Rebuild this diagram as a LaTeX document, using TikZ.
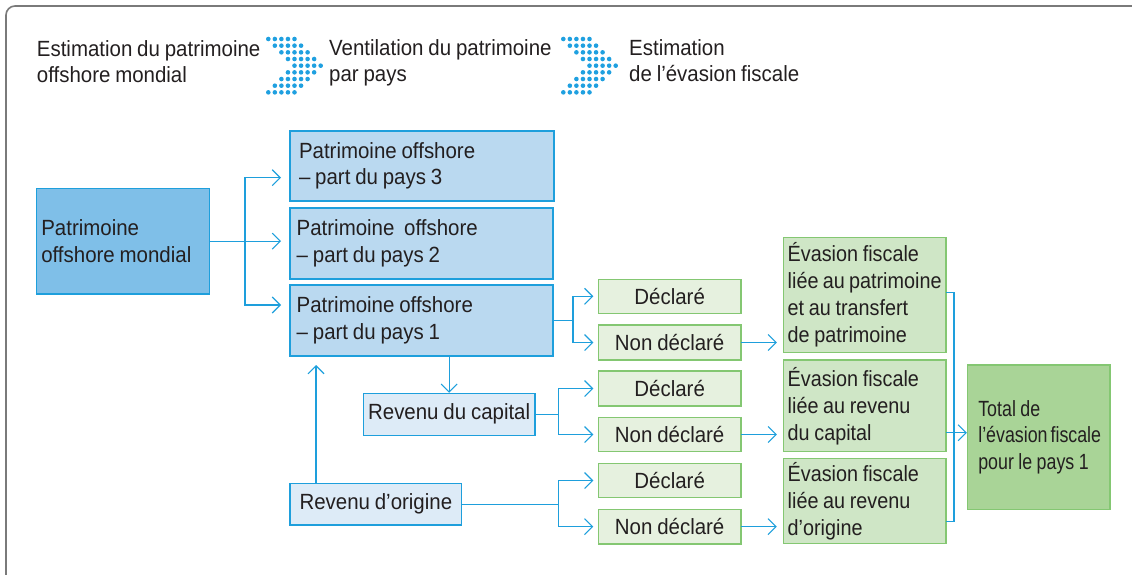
\documentclass[tikz,border=0pt]{standalone}
\usepackage{fontspec}
\setmainfont{Liberation Sans}[FakeStretch=0.93,WordSpace=0.85]
\newfontfamily\evfont{Liberation Sans}[FakeStretch=0.9,WordSpace=0.85]
\newfontfamily\narrowfont{Liberation Sans}[FakeStretch=0.81,WordSpace=0.9]
\usetikzlibrary{arrows.meta}

\definecolor{ink}{HTML}{231F20}
\definecolor{framegray}{HTML}{7A7A7A}
\definecolor{lineblue}{HTML}{1E9FDC}
\definecolor{dotblue}{HTML}{1FA0E0}
\definecolor{fillA}{HTML}{7FBFE8}
\definecolor{fillP}{HTML}{BAD9F0}
\definecolor{fillR}{HTML}{DDEBF7}
\definecolor{linegreen}{HTML}{84C772}
\definecolor{fillD}{HTML}{E6F1DF}
\definecolor{fillE}{HTML}{CFE6C6}
\definecolor{fillT}{HTML}{A9D497}

\tikzset{
  every node/.style={font=\fontsize{22}{26.5}\selectfont, text=ink},
  bx/.style={draw, line width=1.2pt, anchor=north west, inner ysep=0pt, outer sep=0pt},
  bluebox/.style={bx, draw=lineblue},
  greenbox/.style={bx, draw=linegreen},
  evbox/.style={greenbox, fill=fillE, font=\fontsize{22}{27}\selectfont\evfont},
  leftbox/.style args={#1/#2/#3/#4}{minimum width=#1pt, minimum height=#2pt,
      inner xsep=#3pt, text width=#4pt, align=flush left,
      execute at begin node={\spaceskip=0pt\xspaceskip=0pt}},
  midbox/.style args={#1/#2}{minimum width=#1pt, minimum height=#2pt, inner xsep=0pt, align=center},
  legend/.style={anchor=north west, inner sep=0pt, align=left},
  conn/.style={draw=lineblue, line width=1.1pt},
  arr/.style={conn, -{Straight Barb[length=8pt,width=16pt]}},
  frame/.style={draw=framegray, line width=1.6pt, rounded corners=9pt},
}

\begin{document}
\hyphenpenalty=10000
\exhyphenpenalty=10000
\hbadness=10000
\hfuzz=200pt
\begin{tikzpicture}[x=1pt,y=-1pt]
\useasboundingbox (0,0) rectangle (1132,575);
\clip (0,0) rectangle (1132,575);

% outer frame, open towards the right and bottom edges
\draw[frame] (6,6) rectangle (1160,600);

% legend: three stages separated by dotted chevrons
\node[legend] (l1) at (36.7,40) {Estimation du patrimoine\\offshore mondial};
\node[legend] (l2) at (329,39) {Ventilation du patrimoine\\par pays};
\node[legend] (l3) at (629,39) {Estimation\\de l’évasion fiscale};

\foreach \cx in {268.3,563.3}{
  \foreach \r in {0,...,8}{
    \pgfmathsetmacro{\off}{4-abs(\r-4)}
    \foreach \c in {0,...,4}{
      \fill[dotblue] ({\cx+(\c+\off)*6.55},{39+\r*6.67}) circle (2.3pt);
    }
  }
}

% wealth boxes
\node[bluebox, fill=fillA, leftbox=172.6/105.7/4.6/163.4] (A) at (36.7,188.3)
  {Patrimoine\\offshore~mondial};
\node[bluebox, fill=fillP, leftbox=264/70/9/246] (P3) at (290,131)
  {Patrimoine offshore\\– part du pays 3};
\node[bluebox, fill=fillP, leftbox=263/71/6.7/249.6] (P2) at (290,208)
  {Patrimoine\ \ offshore\\– part du pays 2};
\node[bluebox, fill=fillP, leftbox=263/71/6.7/249.6] (P1) at (290,285)
  {Patrimoine offshore\\– part du pays 1};

% income boxes
\node[bluebox, fill=fillR, midbox=171.7/42] (RC) at (363.3,393.3) {Revenu du capital};
\node[bluebox, fill=fillR, midbox=171.7/41.7] (RO) at (290,483.3) {Revenu d’origine};

% declared / undeclared
\node[greenbox, fill=fillD, midbox=142.7/34] (D1) at (598.3,279.3) {Déclaré};
\node[greenbox, fill=fillD, midbox=142.7/35] (N1) at (598.3,325) {Non déclaré};
\node[greenbox, fill=fillD, midbox=142.7/35] (D2) at (598.3,371) {Déclaré};
\node[greenbox, fill=fillD, midbox=142.7/34.4] (N2) at (598.3,417.3) {Non déclaré};
\node[greenbox, fill=fillD, midbox=142.7/34.4] (D3) at (598.3,463.3) {Déclaré};
\node[greenbox, fill=fillD, midbox=142.7/34.7] (N3) at (598.3,509.3) {Non déclaré};

% tax evasion boxes
\node[evbox, leftbox=162.7/115.4/4.4/153.9] (E1) at (783.3,237.3)
  {Évasion~fiscale\\liée~au~patrimoine\\et~au~transfert\\de~patrimoine};
\node[evbox, leftbox=162.7/91.7/4.4/153.9] (E2) at (783.3,360)
  {Évasion~fiscale\\liée~au~revenu\\du~capital};
\node[evbox, leftbox=162.7/85/4.4/153.9] (E3) at (783.3,458.3)
  {Évasion~fiscale\\liée~au~revenu\\d’origine};
\node[greenbox, fill=fillT, leftbox=142.7/144.3/11/120.7] (T) at (967.3,365)
  {\narrowfont Total~de\\l’évasion~fiscale\\pour~le~pays~1};

% world wealth split by country
\coordinate (jA) at ([xshift=35.7pt]A.east);
\draw[arr, shorten >=9pt] (A.east) -- (jA) |- ([yshift=-11.7pt]P3.west);
\draw[arr, shorten >=9pt] (jA) -- (jA -| P2.west);
\draw[arr, shorten >=9pt] (jA) |- ([yshift=15.5pt]P1.west);

% country 1 wealth, capital income and original income
\draw[arr, shorten >=0.5pt] (P1.south -| RC.north) -- (RC.north);
\draw[arr, shorten >=9pt] ([xshift=26pt]RO.north west) -- ([xshift=26pt]RO.north west |- P1.south);

\coordinate (jP) at ([xshift=20pt]P1.east);
\draw[arr, shorten >=5pt] (P1.east) -- (jP) |- (D1.west);
\draw[arr, shorten >=5pt] (jP) |- (N1.west);

\coordinate (jR) at ([xshift=23.3pt]RC.east);
\draw[arr, shorten >=5pt] (RC.east) -- (jR) |- (D2.west);
\draw[arr, shorten >=5pt] (jR) |- (N2.west);

\coordinate (jO) at (jR |- RO.east);
\draw[arr, shorten >=5pt] (RO.east) -- (jO) |- (D3.west);
\draw[arr, shorten >=5pt] (jO) |- (N3.west);

% undeclared amounts feed the evasion estimates
\draw[arr, shorten >=6.5pt] (N1.east) -- (N1.east -| E1.west);
\draw[arr, shorten >=6.5pt] (N2.east) -- (N2.east -| E2.west);
\draw[arr, shorten >=6.5pt] (N3.east) -- (N3.east -| E3.west);

% collecting bracket towards the total
\coordinate (jE) at ([xshift=8pt]E2.east);
\draw[conn] ([yshift=2.3pt]E1.east) -| ([yshift=-20.9pt]E3.east -| jE) -- ([yshift=-20.9pt]E3.east);
\draw[arr, shorten >=0.5pt] ([yshift=-26.9pt]E2.east) -- ([yshift=-26.9pt]E2.east -| T.west);
\end{tikzpicture}
\end{document}
